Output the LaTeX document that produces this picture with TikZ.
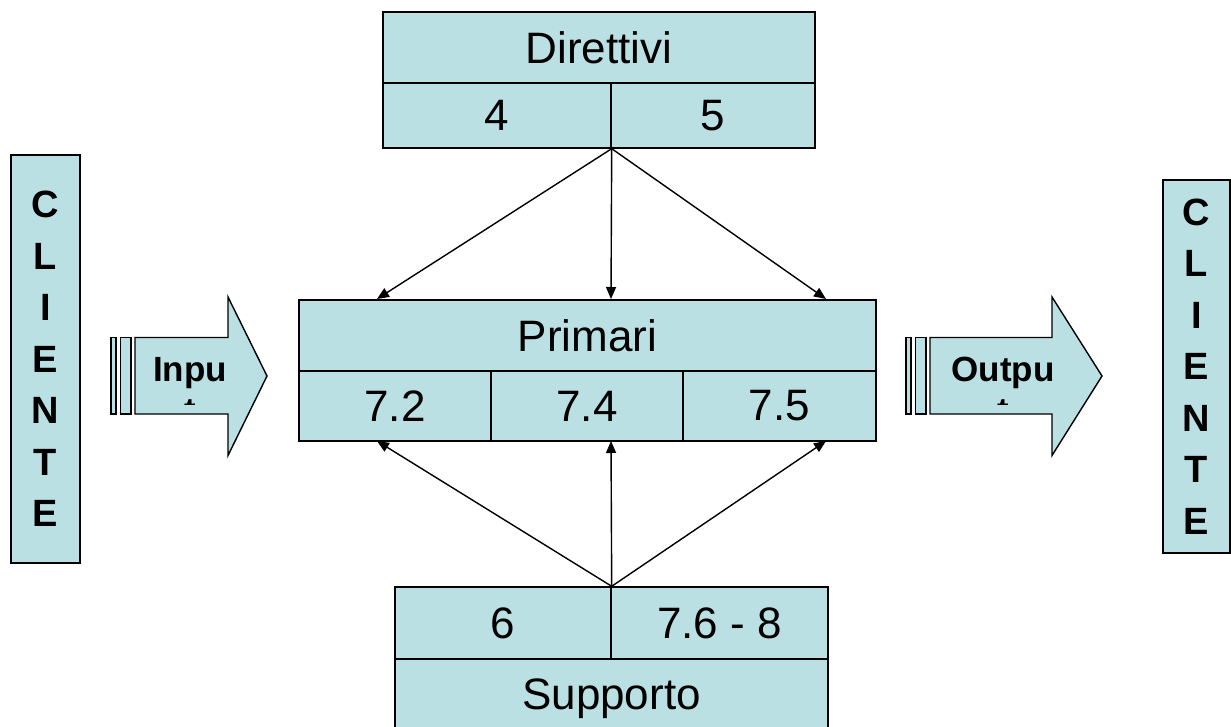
\documentclass[tikz,border=0pt]{standalone}
\usepackage{fontspec}
\setmainfont{Liberation Sans}
\usetikzlibrary{arrows.meta,calc}
\definecolor{boxfill}{RGB}{186,224,227}
\tikzset{
  cell/.style={draw=black, fill=boxfill, line width=1.4pt, rectangle, inner sep=0pt,
    font=\fontsize{44}{48}\selectfont},
  client/.style={draw=black, fill=boxfill, line width=1.4pt, rectangle, inner sep=0pt,
    align=center, font=\fontsize{38}{51.5}\selectfont\bfseries},
  link/.style={line width=1.4pt, -{Triangle[length=12pt,width=10pt]}},
  bigarrow/.style={draw=black, fill=boxfill, line width=1.4pt, line join=miter},
  arrowtext/.style={inner sep=0pt, font=\fontsize{35}{38}\selectfont\bfseries}
}
\begin{document}
\begin{tikzpicture}[x=1pt,y=-1pt]
\useasboundingbox (0,0) rectangle (1231,727);
\clip (0,0) rectangle (1231,727);

% Direttivi
\node[cell, minimum width=432pt, minimum height=71pt] (dir) at (599,47.5) {Direttivi};
\node[cell, minimum width=228pt, minimum height=65pt] (d4) at (497,115.5) {4};
\node[cell, minimum width=204pt, minimum height=65pt] (d5) at (713,115.5) {5};

% Primari
\node[cell, minimum width=577pt, minimum height=72pt] (pri) at (587.5,336) {Primari};
\node[cell, minimum width=192pt, minimum height=70pt] (p72) at (395,406) {7.2};
\node[cell, minimum width=192pt, minimum height=70pt] (p74) at (587,406) {7.4};
\node[cell, minimum width=193pt, minimum height=70pt] (p75) at (779.5,406) {7.5};

% Supporto
\node[cell, minimum width=216pt, minimum height=72pt] (s6) at (503,623) {6};
\node[cell, minimum width=217pt, minimum height=72pt] (s76) at (719.5,623) {7.6 - 8};
\node[cell, minimum width=433pt, minimum height=80pt] (sup) at (611.5,699) {Supporto};

% Clients
\node[client, minimum width=69pt, minimum height=408pt] (cl) at (45.5,359) {C\\L\\I\\E\\N\\T\\E};
\node[client, minimum width=67pt, minimum height=373pt] (cr) at (1196.5,366.5) {C\\L\\I\\E\\N\\T\\E};

% connector points
\coordinate (dtop) at (d4.south east);
\coordinate (sbot) at (s6.north east);
\coordinate (pa) at (377,299);
\coordinate (pb) at (611,299);
\coordinate (pc) at (826,299);
\coordinate (qa) at (377,441);
\coordinate (qb) at (611,441);
\coordinate (qc) at (826,441);

\draw[link] (dtop) -- (pa);
\draw[link] (dtop) -- (pb);
\draw[link] (dtop) -- (pc);
\draw[link] (sbot) -- (qa);
\draw[link] (sbot) -- (qb);
\draw[link] (sbot) -- (qc);

% Input arrow
\draw[bigarrow] (111,337.5) rectangle (116,414);
\draw[bigarrow] (120.5,337.5) rectangle (131,414);
\draw[bigarrow] (135,337.5) -- (228,337.5) -- (228,297) -- (267,376) -- (228,455.5) -- (228,414) -- (135,414) -- cycle;
\node[arrowtext] (inp) at (190,373) {Inpu};
\begin{scope}
\clip (170,396) rectangle (210,404.5);
\node[arrowtext, anchor=base] (inpt) at (190,422) {t};
\end{scope}

% Output arrow
\draw[bigarrow] (906,337.5) rectangle (911,414);
\draw[bigarrow] (915.5,337.5) rectangle (926,414);
\draw[bigarrow] (930,337.5) -- (1052,337.5) -- (1052,297) -- (1102,376) -- (1052,455.5) -- (1052,414) -- (930,414) -- cycle;
\node[arrowtext] (outp) at (1003,373) {Outpu};
\begin{scope}
\clip (985,396) rectangle (1025,404.5);
\node[arrowtext, anchor=base] (outpt) at (1003,422) {t};
\end{scope}
\end{tikzpicture}
\end{document}
